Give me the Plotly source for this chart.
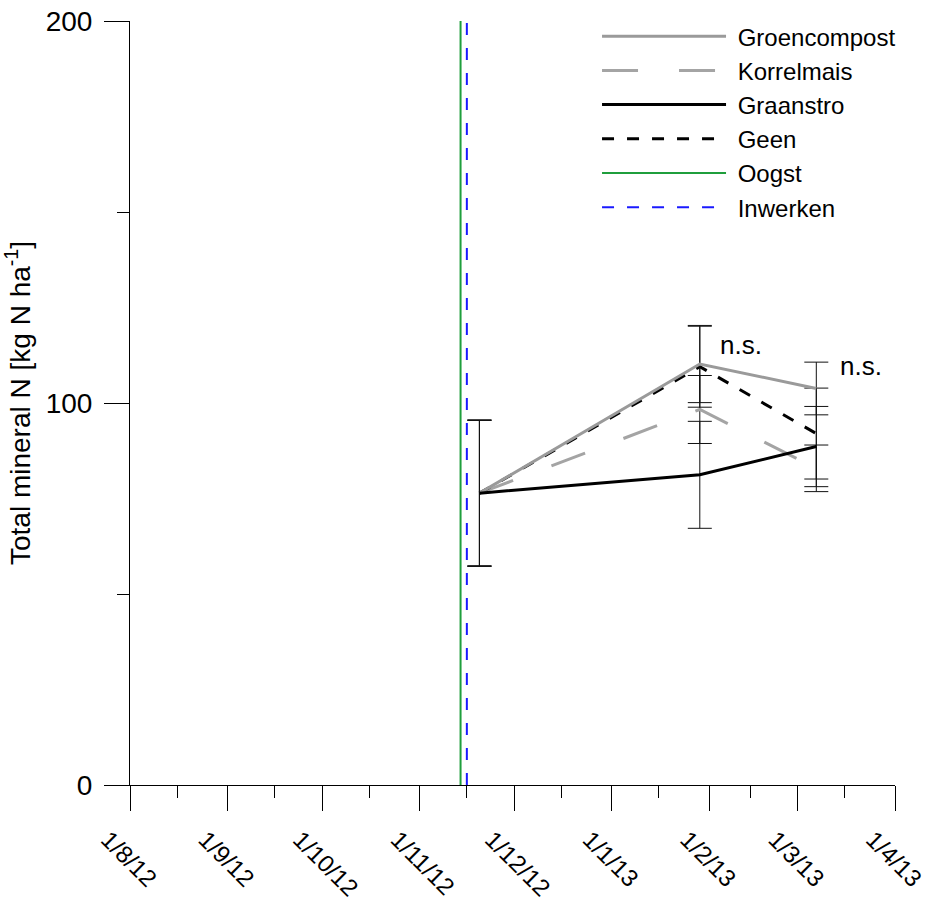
import plotly.graph_objects as go

# Sampling dates and treatment means / errors (kg N/ha)
sample_dates = ["2012-11-20", "2013-01-29", "2013-03-07"]

groencompost = [76.4, 110.2, 103.8]
groencompost_err = [19.1, 10.1, 6.9]

korrelmais = [76.4, 98.3, 82.9]
korrelmais_err = [19.1, 8.9, 6.1]

graanstro = [76.4, 81.2, 88.6]
graanstro_err = [19.1, 14.0, 10.5]

geen = [76.4, 109.5, 92.0]
geen_err = [19.1, 10.6, 11.9]

# Field events
oogst_date = "2012-11-14"
inwerken_date = "2012-11-16"

# Axis ticks
x_tickvals = ["2012-08-01", "2012-09-01", "2012-10-01", "2012-11-01", "2012-12-01",
              "2013-01-01", "2013-02-01", "2013-03-01", "2013-04-01"]
x_ticktext = ["1/8/12", "1/9/12", "1/10/12", "1/11/12", "1/12/12",
              "1/1/13", "1/2/13", "1/3/13", "1/4/13"]
x_minor = ["2012-08-16", "2012-09-16", "2012-10-16", "2012-11-16", "2012-12-16",
           "2013-01-16", "2013-02-14", "2013-03-16"]
y_tickvals = [0, 100, 200]
y_minor = [50, 150]

FONT = "Liberation Sans, Arial, sans-serif"
GRAY = "#9a9a9a"
GRAY2 = "#a4a4a4"
NB = "\u00a0"

fig = go.Figure()

def err(arr):
    return dict(type="data", array=arr, visible=True, color="#111111",
                thickness=1, width=12)

# event lines
fig.add_trace(go.Scatter(x=[oogst_date, oogst_date], y=[0, 200], mode="lines",
                         name=NB + "Oogst", legendrank=5,
                         line=dict(color="#1f9e3c", width=2)))
fig.add_trace(go.Scatter(x=[inwerken_date, inwerken_date], y=[0, 200], mode="lines",
                         name=NB + "Inwerken", legendrank=6,
                         line=dict(color="#1a1aff", width=2, dash="12px,13px")))

# treatments
fig.add_trace(go.Scatter(x=sample_dates, y=korrelmais, mode="lines", name=NB + "Korrelmais",
                         legendrank=2, error_y=err(korrelmais_err),
                         line=dict(color=GRAY2, width=3, dash="36px,41px")))
fig.add_trace(go.Scatter(x=sample_dates, y=geen, mode="lines", name=NB + "Geen",
                         legendrank=4, error_y=err(geen_err),
                         line=dict(color="black", width=3, dash="12px,13px")))
fig.add_trace(go.Scatter(x=sample_dates, y=groencompost, mode="lines", name=NB + "Groencompost",
                         legendrank=1, error_y=err(groencompost_err),
                         line=dict(color=GRAY, width=3)))
fig.add_trace(go.Scatter(x=sample_dates, y=graanstro, mode="lines", name=NB + "Graanstro",
                         legendrank=3, error_y=err(graanstro_err),
                         line=dict(color="black", width=3)))

# "n.s." marks next to the highest error bar of the last two samplings
series = [(groencompost, groencompost_err), (korrelmais, korrelmais_err),
          (graanstro, graanstro_err), (geen, geen_err)]
for i, (dx, dy) in zip([1, 2], [(18, 20), (22, 4)]):
    top = max(v[i] + e[i] for v, e in series)
    fig.add_annotation(x=sample_dates[i], y=top, text="n.s.", showarrow=False,
                       xanchor="left", yanchor="middle", xshift=dx, yshift=-dy,
                       font=dict(family=FONT, size=26, color="black"))

fig.update_layout(
    width=930, height=906,
    margin=dict(l=130, r=35, t=21, b=121, autoexpand=False),
    paper_bgcolor="white", plot_bgcolor="white",
    font=dict(family=FONT, color="black"),
    showlegend=True,
    legend=dict(x=0.6105, y=1.009, xanchor="left", yanchor="top",
                font=dict(family=FONT, size=24, color="black"),
                bgcolor="rgba(0,0,0,0)", itemwidth=124, traceorder="normal"),
    xaxis=dict(type="date", range=["2012-08-01", "2013-04-01"], automargin=False,
               showline=True, linecolor="black", linewidth=1,
               showgrid=False, zeroline=False,
               tickmode="array", tickvals=x_tickvals, ticktext=x_ticktext,
               ticks="outside", ticklen=25, tickwidth=1, tickcolor="black",
               tickangle=45, ticklabelshift=-22, ticklabelstandoff=5,
               tickfont=dict(family=FONT, size=24, color="black"),
               minor=dict(tickmode="array", tickvals=x_minor, ticks="outside",
                          ticklen=12, tickwidth=1, tickcolor="black", showgrid=False)),
    yaxis=dict(range=[0, 200], automargin=False,
               showline=True, linecolor="black", linewidth=1,
               showgrid=False, zeroline=False,
               tickmode="array", tickvals=y_tickvals,
               ticks="outside", ticklen=25, tickwidth=1, tickcolor="black",
               ticklabelstandoff=6,
               tickfont=dict(family=FONT, size=28, color="black"),
               minor=dict(tickmode="array", tickvals=y_minor, ticks="outside",
                          ticklen=12, tickwidth=1, tickcolor="black", showgrid=False),
               title=dict(text="Total mineral N [kg N ha<sup>-1</sup>]",
                          font=dict(family=FONT, size=28, color="black"),
                          standoff=8)),
)

fig.write_html("out.html")
